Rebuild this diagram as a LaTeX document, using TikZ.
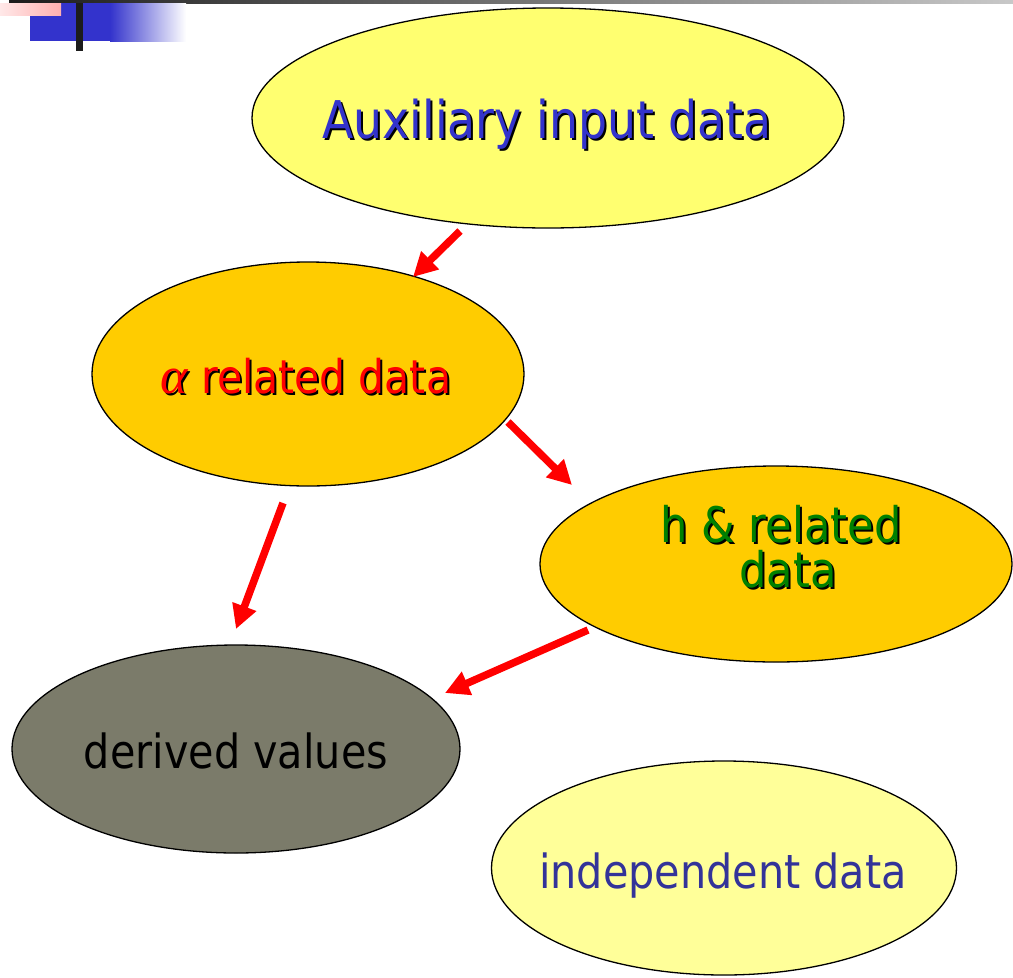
\documentclass[tikz,border=0pt]{standalone}
\usepackage{fontspec}
\setmainfont{DejaVu Sans}
\newfontfamily\tah[FakeStretch=0.88]{DejaVu Sans}
\newfontfamily\greekserif{Liberation Serif}
\usetikzlibrary{arrows.meta,shapes.geometric}

\definecolor{barDark}{HTML}{1C1C1C}
\definecolor{barLight}{HTML}{C8C8C8}
\definecolor{headBlue}{HTML}{3333CC}
\definecolor{pinkLight}{HTML}{FFE8E8}
\definecolor{pinkDark}{HTML}{FFB0B0}
\definecolor{paleYellow}{HTML}{FFFF70}
\definecolor{lightYellow}{HTML}{FFFF99}
\definecolor{gold}{HTML}{FFCC00}
\definecolor{olive}{HTML}{7B7B6A}
\definecolor{titleBlue}{HTML}{3333CC}
\definecolor{softBlue}{HTML}{333399}
\definecolor{darkGreen}{HTML}{008000}

% text with a small black drop shadow
\newcommand\dropshadow[2]{%
  \makebox[0pt][l]{\hspace{2pt}\raisebox{-2pt}{\color{black}#2}}{\color{#1}#2}}

\begin{document}
\begin{tikzpicture}[x=1pt,y=-1pt,
  bubble/.style={ellipse, draw=black, line width=1.3pt, inner sep=0pt},
  label/.style={anchor=base, inner sep=0pt},
  flow/.style={draw=red, line width=7.5pt,
    -{Triangle[length=24pt,width=24pt]}}]
\useasboundingbox (0,0) rectangle (1013,978);

% slide header ornament
\shade[left color=barDark, right color=barLight] (9,0) rectangle (1013,3);
\fill[headBlue] (30,3) rectangle (110,41);
\shade[left color=headBlue, right color=white] (110,3) rectangle (186,41);
\shade[left color=pinkLight, right color=pinkDark] (0,3) rectangle (61,15);
\fill[barDark] (76,3) rectangle (83,51);

% data bubbles
\node[bubble, fill=paleYellow, minimum width=592pt, minimum height=220pt] (aux) at (548,118) {};
\node[bubble, fill=gold, minimum width=432pt, minimum height=224pt] (alpha) at (308,374) {};
\node[bubble, fill=gold, minimum width=472pt, minimum height=196pt] (hrel) at (776,564) {};
\node[bubble, fill=olive, minimum width=448pt, minimum height=208pt] (derived) at (236,749) {};
\node[bubble, fill=lightYellow, minimum width=465pt, minimum height=214pt] (indep) at (724,868) {};

% bubble texts
\node[label, font=\tah\fontsize{52}{60}\selectfont] (auxtext) at (547,138)
  {\dropshadow{titleBlue}{Auxiliary input data}};
\node[label, font=\tah\fontsize{46.5}{54}\selectfont] (alphatext) at (306,393)
  {\dropshadow{red}{{\greekserif\itshape\fontsize{52}{60}\selectfont α} related data}};
\node[label, align=center, font=\tah\fontsize{49}{45}\selectfont] (htext) at (788,587)
  {\dropshadow{darkGreen}{h \& related}\kern14pt\\\dropshadow{darkGreen}{data}};
\node[label, font=\tah\fontsize{47}{54}\selectfont] (dertext) at (236,768)
  {derived values};
\node[label, font=\tah\fontsize{47}{54}\selectfont, text=softBlue] (indtext) at (723,888)
  {independent data};

% arrow end points
\coordinate (a1s) at (460,231);
\coordinate (a1e) at (413,277);
\coordinate (a2s) at (508,422);
\coordinate (a2e) at (572,485);
\coordinate (a3s) at (283,503);
\coordinate (a3e) at (236,629);
\coordinate (a4s) at (588,630);
\coordinate (a4e) at (445,693);

% data flow
\draw[flow] (a1s) -- (a1e);
\draw[flow] (a2s) -- (a2e);
\draw[flow] (a3s) -- (a3e);
\draw[flow] (a4s) -- (a4e);
\end{tikzpicture}
\end{document}
